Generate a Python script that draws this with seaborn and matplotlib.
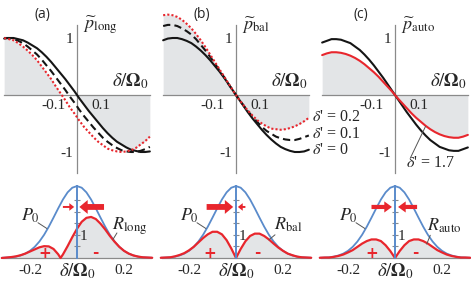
import numpy as np
import matplotlib
matplotlib.use("Agg")
import matplotlib.pyplot as plt
import seaborn as sns

sns.set_theme(style="white")
plt.rcParams["font.family"] = ["Liberation Serif", "DejaVu Serif"]
plt.rcParams["mathtext.fontset"] = "stix"

# ---- data ------------------------------------------------------------
delta_top = np.round(np.linspace(-0.31, 0.31, 32), 2)

# (a) p_long for delta' = 0, 0.1, 0.2
p_long_0 = [0.99, 1.0, 1.0, 0.98, 0.96, 0.92, 0.87, 0.82, 0.75, 0.67, 0.58, 0.48, 0.38, 0.28, 0.17, 0.06,
            -0.06, -0.17, -0.28, -0.38, -0.48, -0.58, -0.67, -0.75, -0.82, -0.87, -0.92, -0.96, -0.98, -1.0, -1.0, -0.99]
p_long_1 = [1.0, 1.0, 0.98, 0.95, 0.91, 0.85, 0.78, 0.71, 0.62, 0.52, 0.42, 0.31, 0.20, 0.09, -0.03, -0.14,
            -0.26, -0.37, -0.47, -0.57, -0.66, -0.75, -0.82, -0.88, -0.93, -0.97, -0.99, -1.0, -1.0, -0.98, -0.95, -0.91]
p_long_2 = [1.0, 0.98, 0.96, 0.91, 0.85, 0.78, 0.70, 0.61, 0.50, 0.39, 0.28, 0.15, 0.03, -0.09, -0.22, -0.33,
            -0.45, -0.56, -0.65, -0.74, -0.82, -0.88, -0.94, -0.97, -0.99, -1.0, -0.99, -0.97, -0.93, -0.87, -0.81, -0.73]

# (b) p_bal for delta' = 0, 0.1, 0.2
p_bal_0 = [0.96, 0.99, 1.0, 1.0, 0.98, 0.95, 0.91, 0.85, 0.78, 0.70, 0.61, 0.51, 0.41, 0.30, 0.18, 0.06,
           -0.06, -0.18, -0.30, -0.41, -0.51, -0.61, -0.70, -0.78, -0.85, -0.91, -0.95, -0.98, -1.0, -1.0, -0.99, -0.96]
p_bal_1 = [1.21, 1.23, 1.23, 1.21, 1.17, 1.12, 1.06, 0.98, 0.88, 0.78, 0.67, 0.55, 0.43, 0.31, 0.18, 0.06,
           -0.06, -0.17, -0.28, -0.38, -0.47, -0.56, -0.63, -0.68, -0.73, -0.76, -0.78, -0.79, -0.79, -0.77, -0.74, -0.71]
p_bal_2 = [1.40, 1.41, 1.40, 1.37, 1.32, 1.25, 1.17, 1.07, 0.96, 0.84, 0.71, 0.58, 0.45, 0.32, 0.19, 0.06,
           -0.06, -0.17, -0.27, -0.36, -0.44, -0.50, -0.55, -0.59, -0.60, -0.61, -0.60, -0.58, -0.55, -0.51, -0.46, -0.40]
bal_labels = ["0.2", "0.1", "0"]
bal_label_y = [-0.38, -0.68, -0.97]

# (c) p_auto for delta' = 0 and 1.7
p_auto_0 = [0.92, 0.95, 0.98, 0.98, 0.97, 0.94, 0.91, 0.85, 0.79, 0.71, 0.62, 0.52, 0.41, 0.30, 0.18, 0.06,
            -0.06, -0.18, -0.30, -0.41, -0.52, -0.62, -0.71, -0.79, -0.85, -0.91, -0.94, -0.97, -0.98, -0.98, -0.95, -0.92]
p_auto_17 = [0.70, 0.73, 0.75, 0.75, 0.74, 0.72, 0.69, 0.65, 0.60, 0.54, 0.47, 0.40, 0.32, 0.23, 0.14, 0.05,
             -0.05, -0.14, -0.23, -0.32, -0.40, -0.47, -0.54, -0.60, -0.65, -0.69, -0.72, -0.74, -0.75, -0.75, -0.73, -0.70]

# bottom row
delta_bot = np.round(np.linspace(-0.32, 0.32, 33), 2)
P0 = [0.01, 0.02, 0.03, 0.06, 0.11, 0.19, 0.31, 0.48, 0.71, 1.00, 1.35, 1.74, 2.14, 2.52, 2.83, 3.03, 3.1,
      3.03, 2.83, 2.52, 2.14, 1.74, 1.35, 1.00, 0.71, 0.48, 0.31, 0.19, 0.11, 0.06, 0.03, 0.02, 0.01]
R_bal = [0.01, 0.02, 0.03, 0.07, 0.13, 0.21, 0.33, 0.48, 0.67, 0.86, 1.02, 1.13, 1.13, 1.02, 0.77, 0.41, 0.0,
         0.39, 0.72, 0.95, 1.05, 1.05, 0.95, 0.80, 0.62, 0.45, 0.31, 0.19, 0.12, 0.06, 0.03, 0.02, 0.01]
R_auto = [0.01, 0.02, 0.02, 0.05, 0.09, 0.15, 0.24, 0.34, 0.48, 0.62, 0.73, 0.80, 0.80, 0.73, 0.55, 0.30, 0.0,
          0.30, 0.55, 0.73, 0.80, 0.80, 0.73, 0.62, 0.48, 0.34, 0.24, 0.15, 0.09, 0.05, 0.02, 0.02, 0.01]
delta_long = [-0.32, -0.30, -0.28, -0.26, -0.24, -0.22, -0.20, -0.18, -0.16, -0.14, -0.12, -0.10, -0.08, -0.07,
              -0.06, -0.04, -0.02, 0.0, 0.02, 0.04, 0.06, 0.08, 0.10, 0.12, 0.14, 0.16, 0.18, 0.20, 0.22, 0.24,
              0.26, 0.28, 0.30, 0.32]
R_long = [0.0, 0.02, 0.04, 0.07, 0.12, 0.19, 0.28, 0.37, 0.46, 0.51, 0.50, 0.39, 0.16, 0.0,
          0.15, 0.51, 0.90, 1.26, 1.56, 1.73, 1.77, 1.68, 1.48, 1.23, 0.95, 0.70, 0.48, 0.31, 0.19, 0.11,
          0.06, 0.03, 0.02, 0.01]

BLACK = "#151515"
RED = "#e8262d"
BLUE = "#5a8bcb"
GRAY = "#e3e5e7"
AXIS = "#8a8a8a"

W, H = 471, 288
fig = plt.figure(figsize=(W / 100, H / 100), dpi=100)


def add_px_axes(cx, y0, ppx, ppy, xlim, ylim):
    # cx, y0: pixel position of the origin (y measured from top)
    left = cx + xlim[0] * ppx
    width = (xlim[1] - xlim[0]) * ppx
    top = y0 - ylim[1] * ppy
    height = (ylim[1] - ylim[0]) * ppy
    ax = fig.add_axes([left / W, 1 - (top + height) / H, width / W, height / H])
    ax.patch.set_alpha(0)
    return ax


def line(ax, x, y, color, ls="-", lw=1.5):
    sns.lineplot(x=x, y=y, ax=ax, color=color, linestyle=ls, linewidth=lw,
                 legend=False, zorder=3, estimator=None, sort=False)


XL = (-0.33, 0.33)
top_cx = [77, 236, 395]
top_lab = ["(a)", "(b)", "(c)"]
top_ylab = [r"$\widetilde{p}_{\mathrm{long}}$", r"$\widetilde{p}_{\mathrm{bal}}$", r"$\widetilde{p}_{\mathrm{auto}}$"]

red_a = np.array(p_long_2)
blk_a = np.array(p_long_0)
same = np.sign(red_a) == np.sign(blk_a)
fill_a = np.where(same, np.where(np.abs(red_a) < np.abs(blk_a), red_a, blk_a), 0)

top_curves = [
    [(p_long_0, BLACK, "-"), (p_long_1, BLACK, (0, (3.5, 2))), (p_long_2, RED, (0, (1, 1)))],
    [(p_bal_0, BLACK, "-"), (p_bal_1, BLACK, (0, (3.5, 2))), (p_bal_2, RED, (0, (1, 1)))],
    [(p_auto_0, BLACK, "-"), (p_auto_17, RED, "-")],
]
top_fill = [fill_a, p_bal_2, p_auto_17]

top_axes = []
for i in range(3):
    ax = add_px_axes(top_cx[i], 95, 235, 57, XL, (-1.45, 1.55))
    ax.fill_between(delta_top, 0, top_fill[i], color=GRAY, lw=0, zorder=0)
    for y, c, ls in top_curves[i]:
        line(ax, delta_top, y, c, ls, 1.5)
    ax.set_xlim(XL)
    ax.set_ylim(-1.45, 1.55)
    for s in ["top", "right"]:
        ax.spines[s].set_visible(False)
    for s in ["left", "bottom"]:
        ax.spines[s].set_position(("data", 0))
        ax.spines[s].set_color(AXIS)
        ax.spines[s].set_linewidth(0.9)
    ax.spines["left"].set_bounds(-1.37, 1.23)
    ax.spines["bottom"].set_bounds(-0.31, 0.31)
    ax.set_xticks([-0.3, -0.2, -0.1, 0.1, 0.2, 0.3])
    ax.set_xticklabels(["", "", "-0.1", "0.1", "", ""])
    ax.set_yticks([-1, -0.5, 0.5, 1])
    ax.set_yticklabels(["-1", "", "", "1"])
    ax.tick_params(direction="inout", length=4, width=0.8, color=AXIS, labelsize=11, pad=1)
    ax.set_xlabel("")
    ax.set_ylabel("")
    ax.text(-0.145, 1.42, top_lab[i], family="Open Sans", fontsize=10, ha="center", va="center")
    ax.text(0.025, 1.22, top_ylab[i], fontsize=13, ha="left", va="center")
    ax.text(0.305, 0.24, r"$\delta/\mathbf{\Omega}_0$", fontsize=13.5, ha="right", va="center")
    top_axes.append(ax)

# delta' labels
axb = top_axes[1]
for y, lab in zip(bal_label_y, bal_labels):
    axb.text(0.325, y, r"$\delta$' = " + lab, fontsize=11.5, ha="left", va="center", clip_on=False)
axc = top_axes[2]
axc.plot([0.066, 0.13], [-1.1, -0.55], color="#555555", lw=0.7, zorder=4)
axc.text(0.045, -1.2, r"$\delta$' = 1.7", fontsize=11.5, ha="left", va="center")

# ---- bottom row ------------------------------------------------------
R_all = [(delta_long, R_long, r"$R_{\mathrm{long}}$"),
         (delta_bot, R_bal, r"$R_{\mathrm{bal}}$"),
         (delta_bot, R_auto, r"$R_{\mathrm{auto}}$")]
# arrows: (tail, tip, size)
arrows = [
    [(-0.06, -0.012, "s"), (0.115, 0.01, "l")],
    [(-0.125, -0.012, "l"), (0.04, 0.008, "s")],
    [(-0.10, -0.013, "m"), (0.094, 0.013, "m")],
]
arrow_style = {
    "s": "simple,head_length=0.35,head_width=0.55,tail_width=0.14",
    "m": "simple,head_length=0.55,head_width=0.8,tail_width=0.3",
    "l": "simple,head_length=0.6,head_width=1.0,tail_width=0.42",
}
r_lab_pos = [(0.226, 1.38), (0.221, 1.42), (0.209, 1.38)]
r_lead = [((0.17, 1.08), (0.153, 0.80)), ((0.166, 1.0), (0.14, 0.78)), ((0.15, 0.98), (0.135, 0.60))]
signs = [((-0.136, 0.2), (0.077, 0.22)), ((-0.11, 0.2), (0.089, 0.22)), ((-0.098, 0.2), (0.085, 0.22))]

for i in range(3):
    ax = add_px_axes(top_cx[i], 258, 235, 23.2, XL, (-0.9, 3.3))
    dx, r, rlab = R_all[i]
    ax.fill_between(dx, 0, r, color=GRAY, lw=0, zorder=0)
    line(ax, delta_bot, P0, BLUE, "-", 1.3)
    line(ax, dx, r, RED, "-", 1.6)
    ax.set_xlim(XL)
    ax.set_ylim(-0.9, 3.3)
    for s in ["top", "left"]:
        ax.spines[s].set_visible(False)
    ax.spines["bottom"].set_position(("data", 0))
    ax.spines["bottom"].set_bounds(-0.315, 0.315)
    ax.spines["bottom"].set_color(AXIS)
    ax.spines["bottom"].set_linewidth(0.9)
    ax.spines["right"].set_position(("data", 0))
    ax.spines["right"].set_bounds(0, 3.1)
    ax.spines["right"].set_color(BLUE)
    ax.spines["right"].set_linewidth(1.4)
    ax.spines["right"].set_zorder(3.5)
    ax.yaxis.tick_right()
    ax.set_xticks([-0.2, 0.2])
    ax.set_xticklabels(["-0.2", "0.2"])
    ax.set_yticks([0.5, 1, 1.5, 2, 2.5])
    ax.set_yticklabels(["", "1", "", "", ""])
    ax.tick_params(axis="x", direction="inout", length=4, width=0.8, color=AXIS, labelsize=11, pad=2)
    ax.tick_params(axis="y", direction="inout", length=4, width=0.8, color=AXIS, labelsize=11, pad=0)
    ax.set_xlabel("")
    ax.set_ylabel("")
    ax.text(0, -0.55, r"$\delta/\mathbf{\Omega}_0$", fontsize=13.5, ha="center", va="center")
    # labels and leader lines
    ax.text(-0.196, 1.81, r"$P_0$", fontsize=13, ha="center", va="center")
    ax.plot([-0.166, -0.128], [1.52, 1.27], color="#555555", lw=0.7, zorder=4)
    ax.text(r_lab_pos[i][0], r_lab_pos[i][1], rlab, fontsize=13, ha="center", va="center")
    (x1, y1), (x2, y2) = r_lead[i]
    ax.plot([x1, x2], [y1, y2], color="#555555", lw=0.7, zorder=4)
    (px_, py_), (mx_, my_) = signs[i]
    ax.text(px_, py_, "+", color=RED, fontsize=11, fontweight="bold", family="DejaVu Sans",
            ha="center", va="center")
    ax.text(mx_, my_, "-", color=RED, fontsize=11, fontweight="bold", family="DejaVu Sans",
            ha="center", va="center")
    for tail, tip, size in arrows[i]:
        ax.annotate("", xy=(tip, 2.2), xytext=(tail, 2.2),
                    arrowprops=dict(arrowstyle=arrow_style[size], color=RED, lw=0,
                                    shrinkA=0, shrinkB=0, mutation_scale=10), zorder=5)

fig.savefig("out.png", dpi=100)
